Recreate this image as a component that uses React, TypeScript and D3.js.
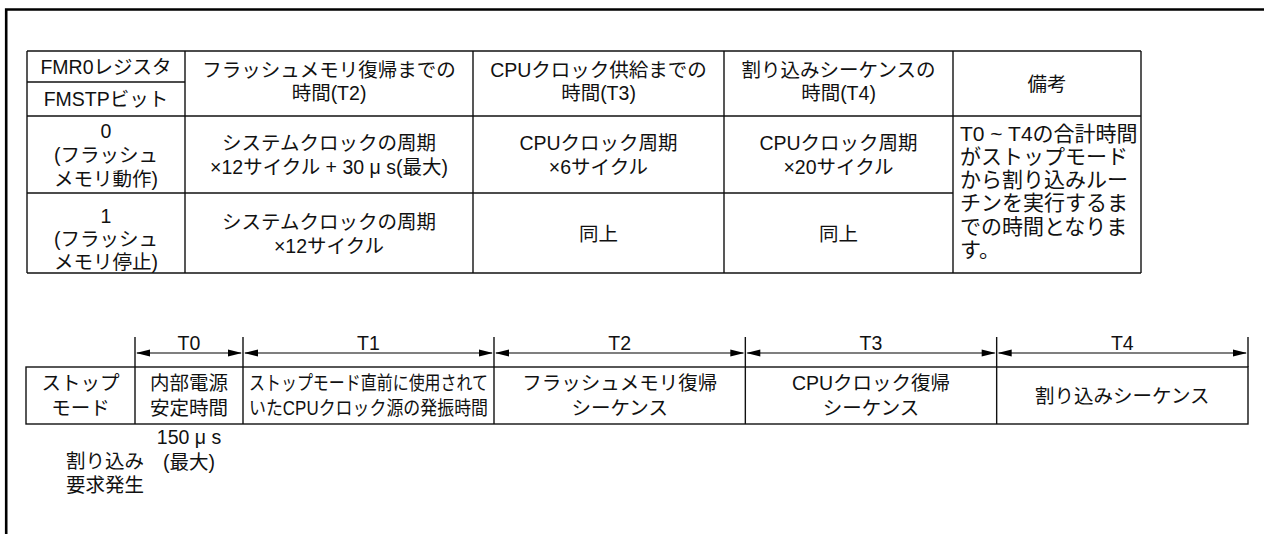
import React from 'react';
import * as d3 from 'd3';

// table contents
const registerLabels = ['FMR0レジスタ', 'FMSTPビット'];
const headerTexts = [
  ['フラッシュメモリ復帰までの', '時間(T2)'],
  ['CPUクロック供給までの', '時間(T3)'],
  ['割り込みシーケンスの', '時間(T4)'],
];
const noteHeader = '備考';
const rowLabels = [
  ['0', '(フラッシュ', 'メモリ動作)'],
  ['1', '(フラッシュ', 'メモリ停止)'],
];
const rowT2 = [
  ['システムクロックの周期', '×12サイクル + 30 μ s(最大)'],
  ['システムクロックの周期', '×12サイクル'],
];
const rowT3 = [['CPUクロック周期', '×6サイクル'], ['同上']];
const rowT4 = [['CPUクロック周期', '×20サイクル'], ['同上']];
const noteLines = [
  'T0 ~ T4の合計時間',
  'がストップモード',
  'から割り込みルー',
  'チンを実行するま',
  'での時間となりま',
  'す。',
];

// timeline contents
const phaseLabels = ['', 'T0', 'T1', 'T2', 'T3', 'T4'];
const phaseTexts = [
  ['ストップ', 'モード'],
  ['内部電源', '安定時間'],
  ['ストップモード直前に使用されて', 'いたCPUクロック源の発振時間'],
  ['フラッシュメモリ復帰', 'シーケンス'],
  ['CPUクロック復帰', 'シーケンス'],
  ['割り込みシーケンス'],
];
const t0Notes = ['150 μ s', '(最大)'];
const interruptNotes = ['割り込み', '要求発生'];

const W = 1264;
const H = 534;
const FONT = '"Liberation Sans", Arial, "Noto Sans CJK JP", sans-serif';

const colX = d3.scaleLinear().domain([0, 1, 2, 3, 4, 5]).range([27, 185, 473, 724, 953, 1141]);
const rowY = d3.scaleLinear().domain([0, 1, 2, 3]).range([51, 116, 193, 273]);
const splitY = 82;
const phaseX = d3.scaleLinear().domain([0, 1, 2, 3, 6]).range([26, 135, 243, 494, 1248]);
const boxTop = 367;
const boxBottom = 424;
const tickTop = 337;
const arrowY = 353;

const Lines: React.FC<{
  lines: string[];
  x: number;
  cy: number;
  lh: number;
  size?: number;
  anchor?: string;
  fit?: number;
}> = ({ lines, x, cy, lh, size = 19.5, anchor = 'middle', fit }) => (
  <>
    {lines.map((t, i) => (
      <text
        key={i}
        x={x}
        y={cy + (i - (lines.length - 1) / 2) * lh}
        textAnchor={anchor}
        dominantBaseline="central"
        fontSize={size}
        {...(fit ? { textLength: fit, lengthAdjust: 'spacingAndGlyphs' } : {})}
      >
        {t}
      </text>
    ))}
  </>
);

const Arrow: React.FC<{ x1: number; x2: number; y: number }> = ({ x1, x2, y }) => {
  const len = 14;
  const hw = 3.6;
  return (
    <g>
      <line x1={x1 + 2} x2={x2 - 2} y1={y} y2={y} stroke="#000" strokeWidth={1.2} />
      <path d={`M${x1 + 1},${y} L${x1 + 1 + len},${y - hw} L${x1 + 1 + len},${y + hw} Z`} fill="#000" />
      <path d={`M${x2 - 1},${y} L${x2 - 1 - len},${y - hw} L${x2 - 1 - len},${y + hw} Z`} fill="#000" />
    </g>
  );
};

export default function App() {
  const mid = (a: number, b: number) => (a + b) / 2;
  const bodyCols = [rowT2, rowT3, rowT4];
  const rowCenters = [mid(rowY(1), rowY(2)), mid(rowY(2), rowY(3))];

  return (
    <svg
      width={W}
      height={H}
      viewBox={`0 0 ${W} ${H}`}
      style={{ position: 'absolute', left: 0, top: 0, background: '#fff' }}
      fontFamily={FONT}
      fill="#111"
    >
      <rect width={W} height={H} fill="#fff" />
      {/* page frame */}
      <path d={`M6.2,${H} V9.5 H${W}`} fill="none" stroke="#000" strokeWidth={2.6} />

      {/* table grid */}
      <g stroke="#111" strokeWidth={1.4}>
        {[0, 1, 3].map((r) => (
          <line key={r} x1={colX(0)} x2={colX(5)} y1={rowY(r)} y2={rowY(r)} />
        ))}
        <line x1={colX(0)} x2={colX(4)} y1={rowY(2)} y2={rowY(2)} />
        <line x1={colX(0)} x2={colX(1)} y1={splitY} y2={splitY} />
        {d3.range(6).map((c) => (
          <line key={c} x1={colX(c)} x2={colX(c)} y1={rowY(0)} y2={rowY(3)} />
        ))}
      </g>

      {/* header */}
      <Lines lines={[registerLabels[0]]} x={mid(colX(0), colX(1))} cy={mid(rowY(0), splitY)} lh={0} />
      <Lines lines={[registerLabels[1]]} x={mid(colX(0), colX(1))} cy={mid(splitY, rowY(1))} lh={0} />
      {headerTexts.map((h, i) => (
        <Lines key={i} lines={h} x={mid(colX(i + 1), colX(i + 2))} cy={81.5} lh={23} />
      ))}
      <Lines lines={[noteHeader]} x={mid(colX(4), colX(5))} cy={mid(rowY(0), rowY(1))} lh={0} />

      {/* body */}
      <Lines lines={rowLabels[0]} x={mid(colX(0), colX(1))} cy={155} lh={24} />
      <Lines lines={rowLabels[1]} x={mid(colX(0), colX(1))} cy={239} lh={23} />
      {bodyCols.map((col, c) =>
        col.map((cell, r) => (
          <Lines
            key={`${c}-${r}`}
            lines={cell}
            x={mid(colX(c + 1), colX(c + 2))}
            cy={rowCenters[r] + 0.5}
            lh={24}
          />
        ))
      )}
      <Lines
        lines={noteLines}
        x={colX(4) + 7}
        cy={133 + ((noteLines.length - 1) * 23.3) / 2}
        lh={23.3}
        size={21}
        anchor="start"
      />

      {/* timeline dimension ticks and arrows */}
      <g stroke="#111" strokeWidth={1.4}>
        {d3.range(1, 7).map((i) => (
          <line key={i} x1={phaseX(i)} x2={phaseX(i)} y1={tickTop} y2={boxTop} />
        ))}
      </g>
      {d3.range(1, 6).map((i) => (
        <g key={i}>
          <Arrow x1={phaseX(i)} x2={phaseX(i + 1)} y={arrowY} />
          <Lines lines={[phaseLabels[i]]} x={mid(phaseX(i), phaseX(i + 1))} cy={343} lh={0} />
        </g>
      ))}

      {/* timeline box */}
      <g stroke="#111" strokeWidth={1.4} fill="none">
        <rect x={phaseX(0)} y={boxTop} width={phaseX(6) - phaseX(0)} height={boxBottom - boxTop} />
        {d3.range(1, 6).map((i) => (
          <line key={i} x1={phaseX(i)} x2={phaseX(i)} y1={boxTop} y2={boxBottom} />
        ))}
      </g>
      {phaseTexts.map((t, i) => (
        <Lines
          key={i}
          lines={t}
          x={mid(phaseX(i), phaseX(i + 1))}
          cy={mid(boxTop, boxBottom)}
          lh={25.5}
          fit={i === 2 ? phaseX(3) - phaseX(2) - 12 : undefined}
        />
      ))}

      {/* notes under the timeline */}
      <Lines lines={t0Notes} x={mid(phaseX(1), phaseX(2))} cy={449.5} lh={25} />
      <Lines lines={interruptNotes} x={105} cy={473} lh={24} />
    </svg>
  );
}
